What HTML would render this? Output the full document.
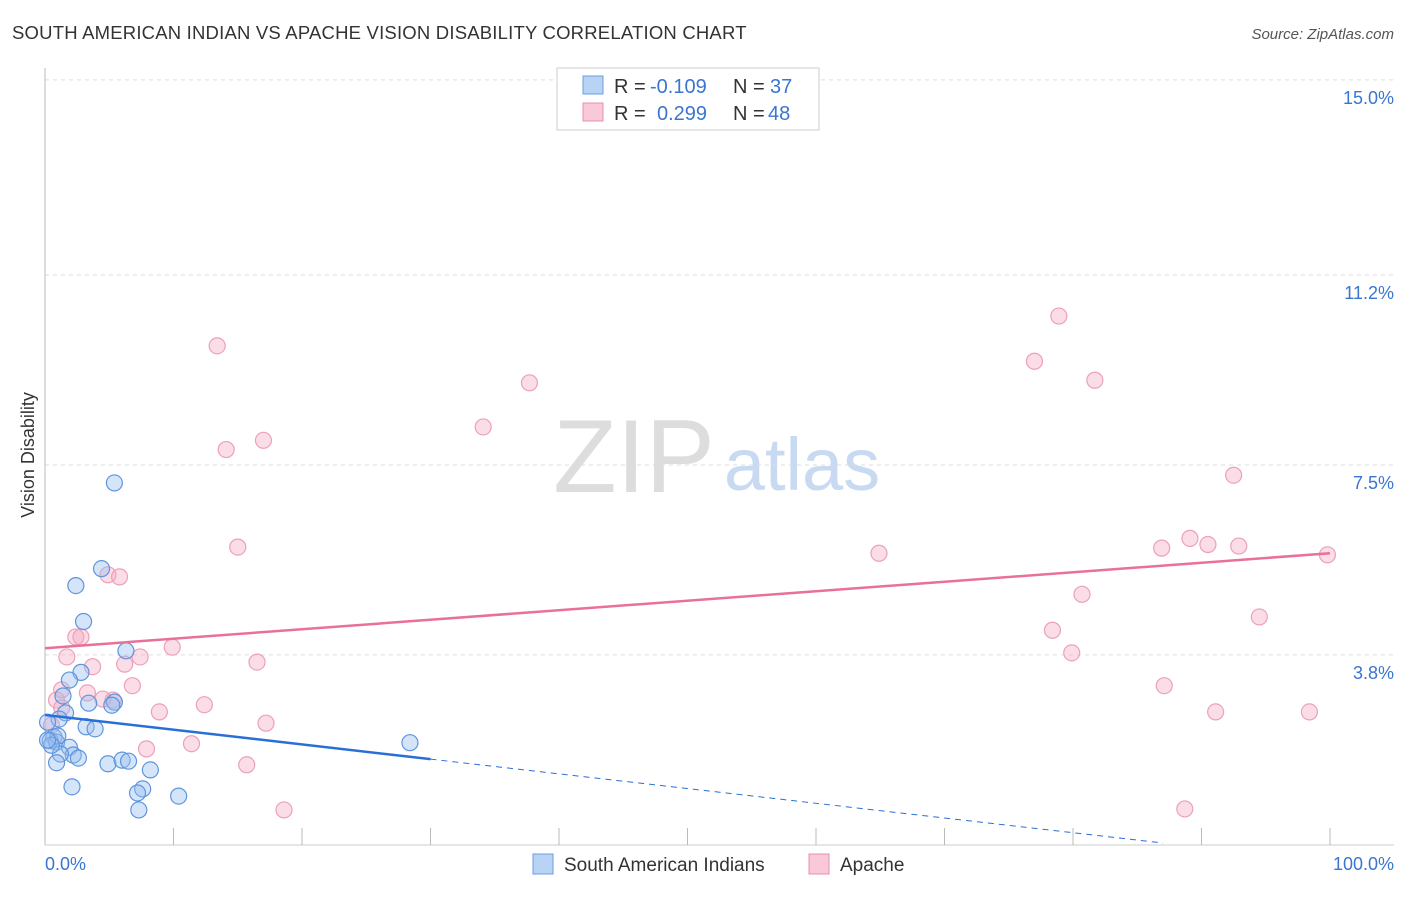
<!DOCTYPE html>
<html><head><meta charset="utf-8"><style>
body{margin:0;background:#fff;font-family:"Liberation Sans",sans-serif}
svg text{font-family:"Liberation Sans",sans-serif}
</style></head><body>
<svg width="1406" height="892" viewBox="0 0 1406 892">
<text x="12" y="39" font-size="18.5" fill="#333" letter-spacing="0.2">SOUTH AMERICAN INDIAN VS APACHE VISION DISABILITY CORRELATION CHART</text>
<text x="1394" y="39" font-size="15" fill="#555" font-style="italic" text-anchor="end">Source: ZipAtlas.com</text>
<text x="634" y="492" font-size="104" fill="#ddd" font-family="Liberation Serif" text-anchor="middle">ZIP</text>
<text x="802" y="490" font-size="74" fill="#c8daf2" text-anchor="middle">atlas</text>
<g id="grid"></g>
<line x1="45" y1="68" x2="45" y2="845" stroke="#bbb"/>
<line x1="45" y1="845" x2="1394" y2="845" stroke="#ccc"/>
<g id="ticks"></g>
<text x="34" y="455" font-size="18" fill="#333" transform="rotate(-90 34 455)" text-anchor="middle">Vision Disability</text>
<text x="45" y="870" font-size="18" fill="#3a75d0">0.0%</text>
<text x="1394" y="870" font-size="18" fill="#3a75d0" text-anchor="end">100.0%</text>
<g id="pts"></g>
<g id="lines"></g>
<g>
<rect x="557" y="68" width="262" height="62" fill="#fff" stroke="#ccc"/>
<rect x="583" y="76" width="20" height="18" fill="#b9d3f5" stroke="#6a9ee0"/>
<rect x="583" y="103" width="20" height="18" fill="#f9c9d8" stroke="#e890ae"/>
<text y="93" font-size="20" fill="#333"><tspan x="614">R =</tspan><tspan x="650" fill="#3a75d0">-0.109</tspan><tspan x="733">N =</tspan><tspan x="770" fill="#3a75d0">37</tspan></text>
<text y="120" font-size="20" fill="#333"><tspan x="614">R =</tspan><tspan x="657" fill="#3a75d0">0.299</tspan><tspan x="733">N =</tspan><tspan x="768" fill="#3a75d0">48</tspan></text>
</g>
<g>
<rect x="533" y="854" width="20" height="20" fill="#b9d3f5" stroke="#6a9ee0"/>
<text x="564" y="871" font-size="19" fill="#333">South American Indians</text>
<rect x="809" y="854" width="20" height="20" fill="#f9c9d8" stroke="#e890ae"/>
<text x="840" y="871" font-size="19" fill="#333">Apache</text>
</g>
</svg>
<script>
const yTicks=[15.0,11.2,7.5,3.8];
const yTickLabels=["15.0%","11.2%","7.5%","3.8%"];
const blueX=[5.4,4.4,2.4,3.0,6.3,2.8,1.9,1.4,3.4,5.4,1.6,1.1,3.2,3.9,0.7,0.4,0.9,1.0,1.9,2.2,1.2,2.6,0.9,4.9,6.0,6.5,8.2,7.6,2.1,7.2,10.4,7.3,28.4,0.5,0.2,5.2,0.2];
const blueY=[7.15,5.48,5.15,4.45,3.88,3.46,3.31,3.0,2.86,2.88,2.67,2.55,2.4,2.36,2.2,2.13,2.1,2.22,2.0,1.85,1.87,1.79,1.7,1.68,1.75,1.73,1.56,1.19,1.23,1.11,1.05,0.78,2.09,2.04,2.14,2.82,2.49];
const pinkX=[13.4,14.1,17.0,15.0,4.9,5.8,2.4,2.8,1.7,7.4,6.2,3.7,9.9,16.5,0.9,1.3,3.3,4.5,5.3,6.8,8.9,12.4,1.3,17.2,7.9,11.4,15.7,18.6,34.1,37.7,64.9,77.0,78.9,81.7,80.7,78.4,79.9,87.1,86.9,89.1,90.5,92.9,92.5,94.5,91.1,98.4,99.8,88.7,0.5];
const pinkY=[9.82,7.8,7.98,5.9,5.36,5.32,4.15,4.15,3.76,3.76,3.62,3.57,3.95,3.66,2.92,3.12,3.06,2.94,2.92,3.2,2.69,2.83,2.77,2.47,1.97,2.07,1.66,0.78,8.24,9.1,5.78,9.52,10.4,9.15,4.98,4.28,3.84,3.2,5.88,6.07,5.95,5.92,7.3,4.54,2.69,2.69,5.75,0.8,2.43];
const pinkTrend=[3.93,5.78];
const blueTrend=[2.63,1.77];
const X=v=>45+v*12.85, Y=v=>850-v*51.34;
const NS="http://www.w3.org/2000/svg";
function mk(p,t,a){const e=document.createElementNS(NS,t);for(const k in a)e.setAttribute(k,a[k]);document.getElementById(p).appendChild(e);return e;}
yTicks.forEach((t,i)=>{
 const l=mk('grid','line',{x1:45,x2:1394,y1:Y(t),y2:Y(t),stroke:'#ddd','stroke-dasharray':'4,4'});
 
 
 const tx=mk('grid','text',{x:1394,y:Y(t)+24,'font-size':18,fill:'#3a75d0','text-anchor':'end'});
 tx.textContent=yTickLabels[i];
 
 
});
for(let i=0;i<=10;i++){
 const t=mk('ticks','line',{x1:X(i*10),x2:X(i*10),y1:828,y2:845,stroke:'#bbb'});
 
 
}
pinkX.forEach((x,i)=>{
 const c=mk('pts','circle',{cx:X(x),cy:Y(pinkY[i]),r:8,fill:'rgba(245,170,195,0.4)',stroke:'#eca0ba','stroke-width':1.2});
 
 
});
blueX.forEach((x,i)=>{
 const c=mk('pts','circle',{cx:X(x),cy:Y(blueY[i]),r:8,fill:'rgba(150,190,240,0.4)',stroke:'#5f95dd','stroke-width':1.2});
 
 
});
const pl=mk('lines','line',{x1:X(0),y1:Y(pinkTrend[0]),x2:X(100),y2:Y(pinkTrend[1]),stroke:'#e8709a','stroke-width':2.5});


const bs=(blueTrend[1]-blueTrend[0])/30;
const bl=mk('lines','line',{x1:X(0),y1:Y(blueTrend[0]),x2:X(30),y2:Y(blueTrend[1]),stroke:'#2a6fd6','stroke-width':2.5});


const bd=mk('lines','line',{x1:X(30),y1:Y(blueTrend[1]),x2:X(87),y2:Y(blueTrend[0]+bs*87),stroke:'#2a6fd6','stroke-width':1,'stroke-dasharray':'6,5'});


</script>
</body></html>
